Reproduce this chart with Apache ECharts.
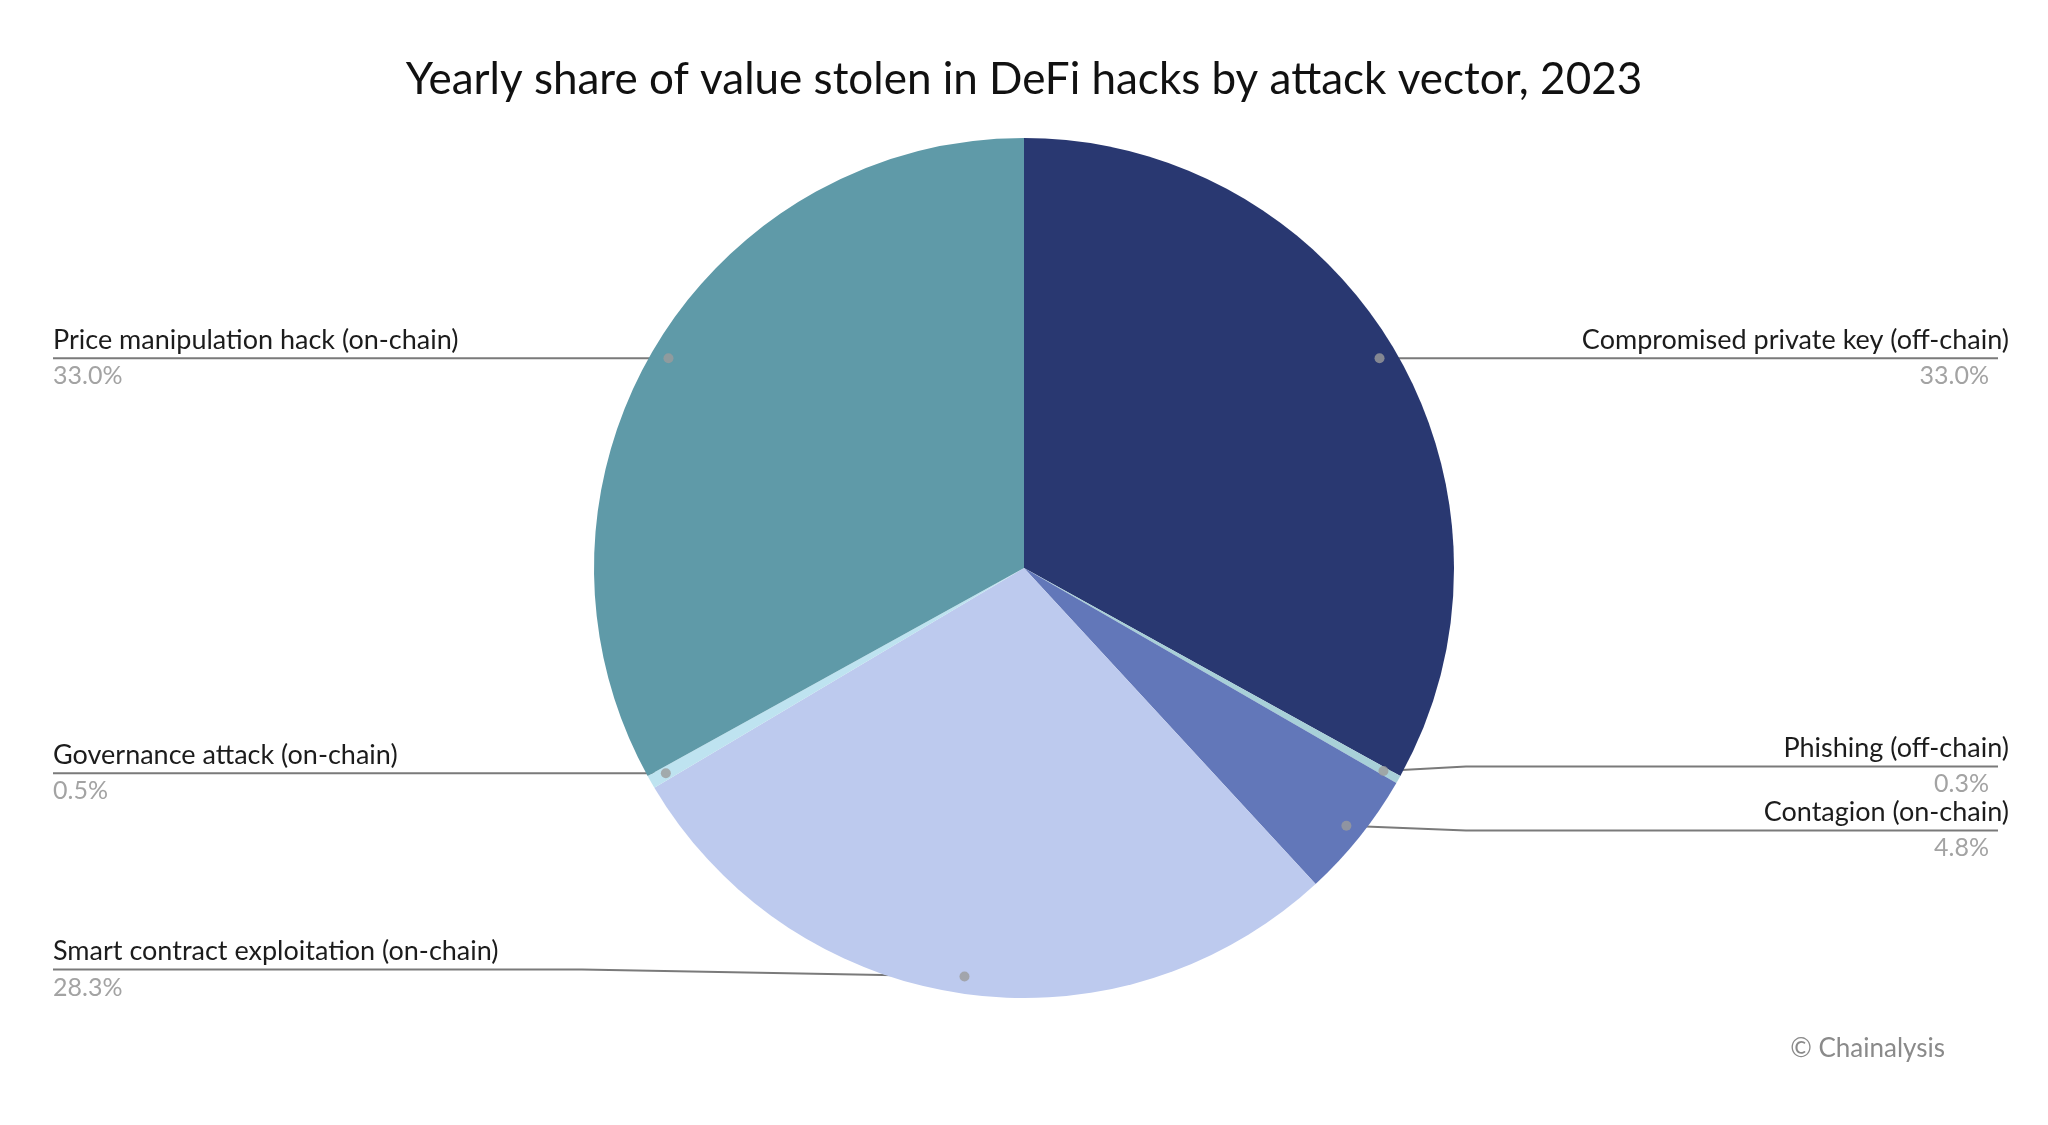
<!DOCTYPE html>
<html>
<head>
<meta charset="utf-8">
<script src="https://cdn.jsdelivr.net/npm/echarts@6/dist/echarts.min.js"></script>
<style>
html,body{margin:0;padding:0;background:#fff;}
#chart{width:2048px;height:1125px;}
</style>
</head>
<body>
<div id="chart"></div>
<script>
// ---- data ----
const categories = [
  'Compromised private key (off-chain)',
  'Phishing (off-chain)',
  'Contagion (on-chain)',
  'Smart contract exploitation (on-chain)',
  'Governance attack (on-chain)',
  'Price manipulation hack (on-chain)'
];
const values = [33.0, 0.3, 4.8, 28.3, 0.5, 33.0];
const colors = ['#293871', '#A8D0D8', '#6277B9', '#BDCAEE', '#BEE3F0', '#5F9AA8'];
const titleText = 'Yearly share of value stolen in DeFi hacks by attack vector, 2023';
const sourceText = '\u00A9 Chainalysis';

// ---- layout constants ----
const CX = 1024, CY = 568, R = 430;
const DOT_FRAC = 0.96;
const BEND = 442;
const LEFT_EDGE = 53, RIGHT_LINE_END = 1998, RIGHT_TEXT = 2009;
const GAP = 64;

const total = values.reduce((a, b) => a + b, 0);
let cum = 0;
const mids = values.map(v => { const m = cum + v / 2; cum += v; return m; });

// label anchor geometry derived from slice mid-angles
const lab = mids.map(m => {
  const th = 2 * Math.PI * m / total;
  return {
    right: Math.sin(th) > 0,
    dx: CX + DOT_FRAC * R * Math.sin(th),
    dy: CY - DOT_FRAC * R * Math.cos(th)
  };
});
lab.forEach(l => { l.y = l.dy; });
[true, false].forEach(side => {
  const arr = lab.filter(l => l.right === side).sort((a, b) => a.y - b.y);
  for (let i = 1; i < arr.length; i++) {
    const d = arr[i].y - arr[i - 1].y;
    if (d < GAP) {
      const s = (GAP - d) / 2;
      arr[i - 1].y -= s;
      arr[i].y += s;
    }
  }
});
// keep bottom-most label inside the lower band
lab.forEach(l => { if (l.y > CY + 0.9 * R) l.y -= 7; });

const FONT = 'Lato, "Noto Sans", sans-serif';
const chart = echarts.init(document.getElementById('chart'));
chart.setOption({
  animation: false,
  backgroundColor: '#ffffff',
  title: [
    {
      text: titleText, left: 'center', top: 53,
      textStyle: { fontFamily: FONT, fontSize: 44, fontWeight: 'normal', color: '#111111' }
    },
    {
      text: sourceText, right: 98, top: 1031,
      textStyle: { fontFamily: FONT, fontSize: 26, fontWeight: 'normal', color: '#8a8a8a' }
    }
  ],
  polar: { center: [CX, CY], radius: R },
  angleAxis: { type: 'value', min: 0, max: total, startAngle: 90, clockwise: true, show: false },
  radiusAxis: { type: 'value', min: 0, max: 1, show: false },
  series: [
    {
      type: 'pie',
      center: [CX, CY],
      radius: R,
      startAngle: 90,
      clockwise: true,
      avoidLabelOverlap: false,
      silent: true,
      data: categories.map((c, i) => ({ name: c, value: values[i], itemStyle: { color: colors[i] } })),
      label: {
        show: true,
        position: 'outside',
        formatter: p => '{n|' + p.name + '}\n{' + (lab[p.dataIndex].right ? 'vr' : 'v') + '|' + p.value.toFixed(1) + '%}',
        rich: {
          n: { fontFamily: FONT, fontSize: 27, color: '#1c1c1c', lineHeight: 36 },
          v: { fontFamily: FONT, fontSize: 25, color: '#a3a3a3', lineHeight: 36 },
          vr: { fontFamily: FONT, fontSize: 25, color: '#a3a3a3', lineHeight: 36, padding: [0, 20, 0, 0] }
        }
      },
      labelLine: { show: true, length: 10, length2: 10, lineStyle: { color: '#7a7a7a', width: 2 } },
      labelLayout: params => {
        const L = lab[params.dataIndex];
        return {
          x: L.right ? RIGHT_TEXT : LEFT_EDGE,
          y: L.y,
          align: L.right ? 'right' : 'left',
          verticalAlign: 'middle',
          labelLinePoints: [
            [L.dx, L.dy],
            [L.right ? CX + BEND : CX - BEND, L.y],
            [L.right ? RIGHT_LINE_END : LEFT_EDGE, L.y]
          ]
        };
      }
    },
    {
      type: 'scatter',
      coordinateSystem: 'polar',
      silent: true,
      z: 10,
      symbolSize: 10,
      itemStyle: { color: '#9b9b9b' },
      data: mids.map(m => [DOT_FRAC, m])
    }
  ]
});
</script>
</body>
</html>
